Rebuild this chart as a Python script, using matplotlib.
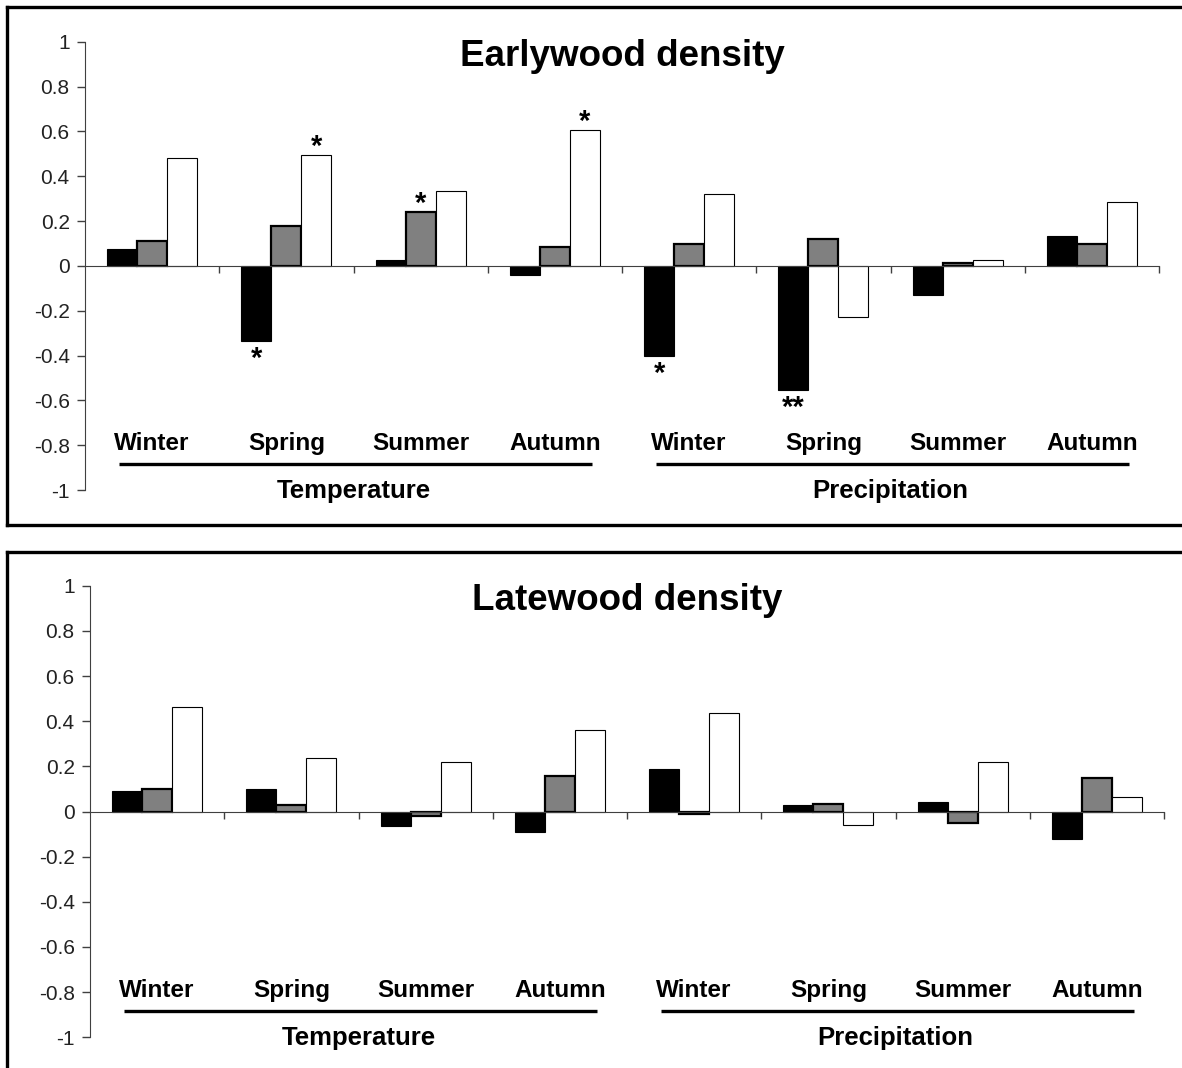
import matplotlib
matplotlib.use("Agg")
import matplotlib.pyplot as plt
from matplotlib.lines import Line2D

plt.rcParams['font.family'] = ['Liberation Sans', 'DejaVu Sans']
plt.rcParams['axes.unicode_minus'] = False

# Seasons, grouped by climate variable
seasons = ["Winter", "Spring", "Summer", "Autumn", "Winter", "Spring", "Summer", "Autumn"]
groups = ["Temperature", "Precipitation"]

# Correlation coefficients (three series per season)
early_black = [0.074, -0.336, 0.028, -0.040, -0.400, -0.555, -0.132, 0.135]
early_gray = [0.110, 0.180, 0.240, 0.082, 0.097, 0.118, 0.013, 0.097]
early_white = [0.480, 0.496, 0.336, 0.607, 0.320, -0.229, 0.028, 0.287]

late_black = [0.092, 0.099, -0.066, -0.090, 0.188, 0.028, 0.040, -0.120]
late_gray = [0.099, 0.030, -0.022, 0.157, -0.009, 0.034, -0.049, 0.150]
late_white = [0.462, 0.238, 0.220, 0.362, 0.436, -0.062, 0.220, 0.064]

# Significance marks: (season index, series index, label)
early_marks = [(1, 0, "*"), (1, 2, "*"), (2, 1, "*"), (3, 2, "*"), (4, 0, "*"), (5, 0, "**")]
late_marks = []

yticks = [1, 0.8, 0.6, 0.4, 0.2, 0, -0.2, -0.4, -0.6, -0.8, -1]
ytick_labels = ["1", "0.8", "0.6", "0.4", "0.2", "0", "-0.2", "-0.4", "-0.6", "-0.8", "-1"]

W, H = 1182, 1068
fig = plt.figure(figsize=(W / 100, H / 100), dpi=100)

bar_w = 0.224
styles = [
    dict(color="black", edgecolor="black", linewidth=0.8),
    dict(color="#808080", edgecolor="black", linewidth=1.6),
    dict(color="white", edgecolor="black", linewidth=0.8),
]


def panel(rect_px, title, series, marks):
    x0, x1, ytop, ybot = rect_px
    ax = fig.add_axes([x0 / W, 1 - ybot / H, (x1 - x0) / W, (ybot - ytop) / H])
    n = len(seasons)
    xs = list(range(n))
    for k, (vals, st) in enumerate(zip(series, styles)):
        ax.bar([x + (k - 1) * bar_w for x in xs], vals, width=bar_w, zorder=3, **st)
    ax.set_xlim(-0.5, n - 0.5)
    ax.set_ylim(-1, 1)
    ax.set_yticks(yticks)
    ax.set_yticklabels(ytick_labels)
    ax.tick_params(axis="y", direction="out", length=6, width=1, colors="#404040",
                   labelsize=15, labelcolor="#222222", pad=5)
    ax.set_xticks([i + 0.5 for i in range(n)])
    ax.set_xticklabels([])
    ax.tick_params(axis="x", direction="out", length=5, width=1, colors="#404040")
    for s in ("top", "right"):
        ax.spines[s].set_visible(False)
    ax.spines["bottom"].set_position(("data", 0))
    ax.spines["bottom"].set_color("#404040")
    ax.spines["left"].set_color("#404040")
    ax.spines["bottom"].set_zorder(4)

    ax.set_title(title, fontsize=26.5, fontweight="bold", pad=0, y=0.968, va="center")

    for i, s in enumerate(seasons):
        ax.text(i, -0.793, s, ha="center", va="center", fontsize=17.5, fontweight="bold")
    for g, grp in enumerate(groups):
        a, b = 4 * g, 4 * g + 3
        ax.add_line(Line2D([a - 0.25, b + 0.28], [-0.884, -0.884], color="black",
                           linewidth=2.4, solid_capstyle="butt", clip_on=False))
        ax.text((a + b) / 2, -1.005, grp, ha="center", va="center",
                fontsize=18.5, fontweight="bold")

    for i, k, lab in marks:
        v = series[k][i]
        x = i + (k - 1) * bar_w
        if v >= 0:
            ax.annotate(lab, (x, v), xytext=(0, 0), textcoords="offset points",
                        ha="center", va="baseline", fontsize=21, fontweight="bold")
        else:
            ax.annotate(lab, (x, v), xytext=(0, -3), textcoords="offset points",
                        ha="center", va="top", fontsize=21, fontweight="bold")
    return ax


panel((85, 1159, 41.7, 490), "Earlywood density",
      [early_black, early_gray, early_white], early_marks)
panel((90, 1164, 585.7, 1037.3), "Latewood density",
      [late_black, late_gray, late_white], late_marks)

# Frames around both panels
def frame_line(xa, ya, xb, yb):
    fig.add_artist(Line2D([xa / W, xb / W], [1 - ya / H, 1 - yb / H],
                          color="black", linewidth=2.4, transform=fig.transFigure))

frame_line(7, 7, W + 5, 7)
frame_line(7, 7, 7, 525)
frame_line(7, 525, W + 5, 525)
frame_line(7, 552, W + 5, 552)
frame_line(7, 552, 7, H + 5)

fig.savefig("out.png", dpi=100)
